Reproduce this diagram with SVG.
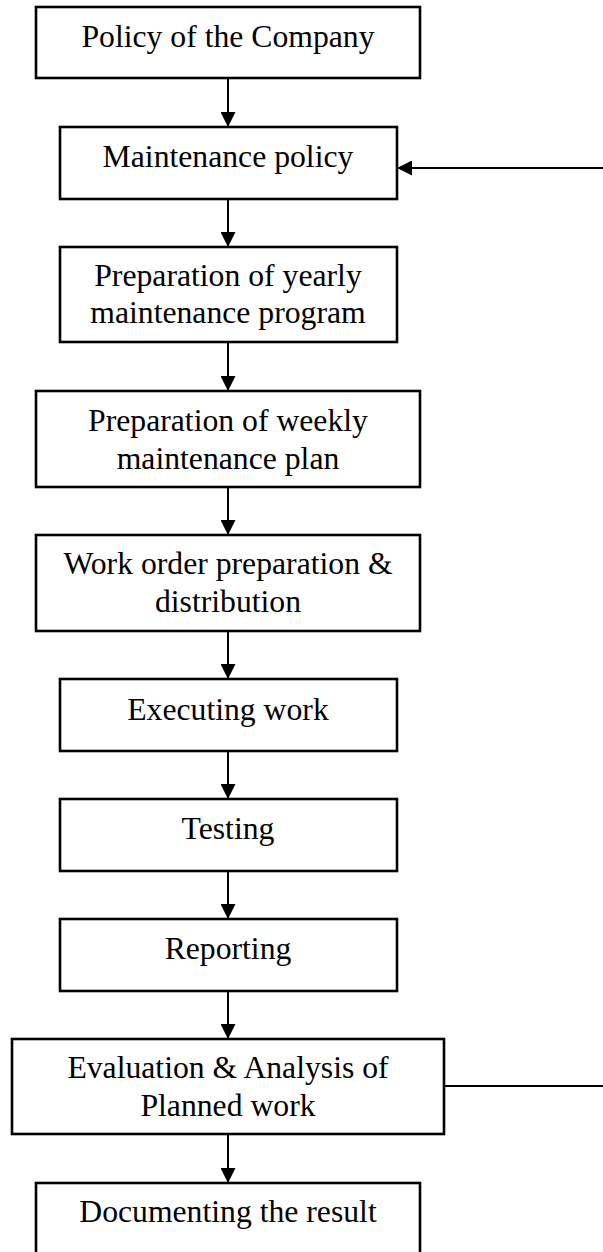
<svg xmlns="http://www.w3.org/2000/svg" width="603" height="1252" viewBox="0 0 603 1252">
  <style>
    .box { fill: #ffffff; stroke: #000000; stroke-width: 2.6; }
    .lbl { font-family: "Liberation Serif", "Times New Roman", serif; font-size: 31.7px; fill: #000000; text-anchor: middle; }
    .wire { fill: none; stroke: #000000; stroke-width: 2; }
  </style>
  <defs>
    <marker id="head" viewBox="0 0 15 15" refX="15" refY="7.5" markerWidth="15" markerHeight="15" markerUnits="userSpaceOnUse" orient="auto">
      <path d="M0,0 L15,7.5 L0,15 Z" fill="#000000"/>
    </marker>
  </defs>
  <rect width="603" height="1252" fill="#ffffff"/>

  <g id="connectors">
    <line class="wire" x1="228" y1="78" x2="228" y2="127" marker-end="url(#head)"/>
    <line class="wire" x1="228" y1="199" x2="228" y2="247" marker-end="url(#head)"/>
    <line class="wire" x1="228" y1="342" x2="228" y2="391" marker-end="url(#head)"/>
    <line class="wire" x1="228" y1="487" x2="228" y2="535" marker-end="url(#head)"/>
    <line class="wire" x1="228" y1="631" x2="228" y2="679" marker-end="url(#head)"/>
    <line class="wire" x1="228" y1="751" x2="228" y2="799" marker-end="url(#head)"/>
    <line class="wire" x1="228" y1="871" x2="228" y2="919" marker-end="url(#head)"/>
    <line class="wire" x1="228" y1="991" x2="228" y2="1039" marker-end="url(#head)"/>
    <line class="wire" x1="228" y1="1134" x2="228" y2="1183" marker-end="url(#head)"/>
    <!-- feedback line entering the maintenance policy box from the right -->
    <line class="wire" x1="603" y1="168" x2="397" y2="168" marker-end="url(#head)"/>
    <!-- line leaving the evaluation box to the right -->
    <line class="wire" x1="444" y1="1086" x2="603" y2="1086"/>
  </g>

  <g id="policy-company">
    <rect class="box" x="36" y="7" width="384" height="71"/>
    <text class="lbl" x="228" y="47">Policy of the Company</text>
  </g>
  <g id="maintenance-policy">
    <rect class="box" x="60" y="127" width="337" height="72"/>
    <text class="lbl" x="228" y="167">Maintenance policy</text>
  </g>
  <g id="yearly-program">
    <rect class="box" x="60" y="247" width="337" height="95"/>
    <text class="lbl" x="228" y="286">Preparation of yearly</text>
    <text class="lbl" x="228" y="323">maintenance program</text>
  </g>
  <g id="weekly-plan">
    <rect class="box" x="36" y="391" width="384" height="96"/>
    <text class="lbl" x="228" y="431">Preparation of weekly</text>
    <text class="lbl" x="228" y="469">maintenance plan</text>
  </g>
  <g id="work-order">
    <rect class="box" x="36" y="535" width="384" height="96"/>
    <text class="lbl" x="228" y="574">Work order preparation &amp;</text>
    <text class="lbl" x="228" y="612">distribution</text>
  </g>
  <g id="executing-work">
    <rect class="box" x="60" y="679" width="337" height="72"/>
    <text class="lbl" x="228" y="720">Executing work</text>
  </g>
  <g id="testing">
    <rect class="box" x="60" y="799" width="337" height="72"/>
    <text class="lbl" x="228" y="839">Testing</text>
  </g>
  <g id="reporting">
    <rect class="box" x="60" y="919" width="337" height="72"/>
    <text class="lbl" x="228" y="959">Reporting</text>
  </g>
  <g id="evaluation">
    <rect class="box" x="12" y="1039" width="432" height="95"/>
    <text class="lbl" x="228" y="1078">Evaluation &amp; Analysis of</text>
    <text class="lbl" x="228" y="1116">Planned work</text>
  </g>
  <g id="documenting">
    <rect class="box" x="36" y="1183" width="384" height="80"/>
    <text class="lbl" x="228" y="1222">Documenting the result</text>
  </g>
</svg>
